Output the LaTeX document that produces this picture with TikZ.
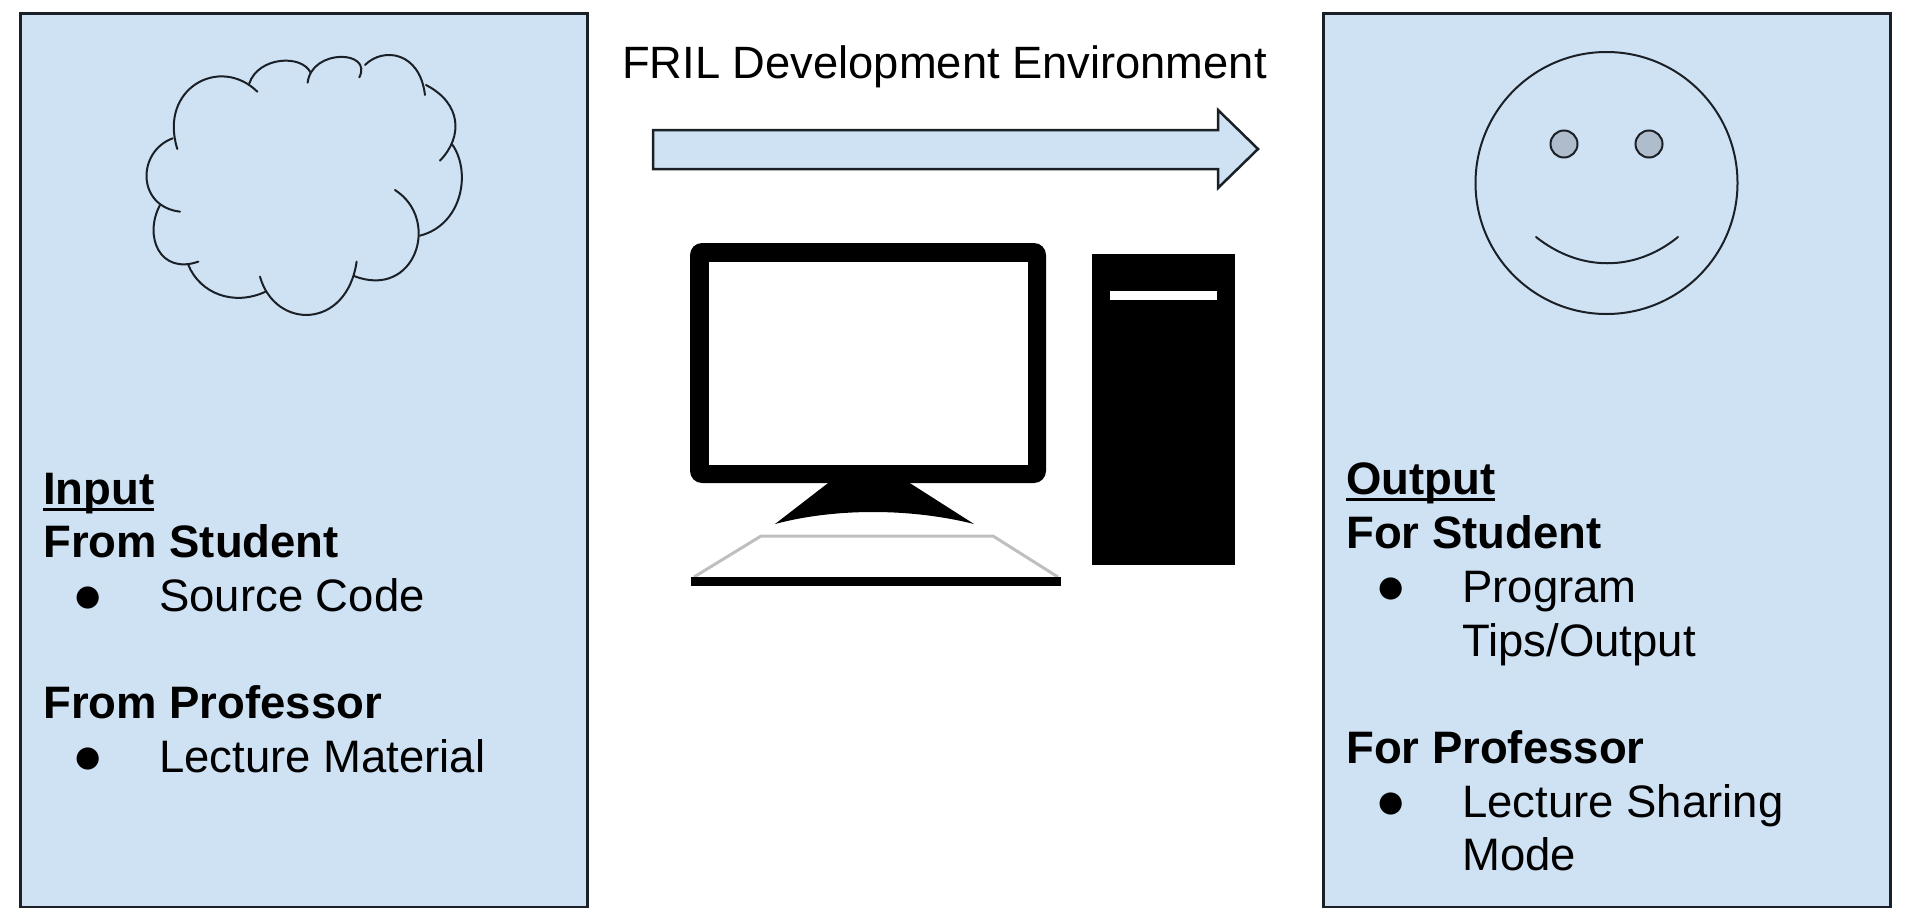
\documentclass[tikz,border=0pt]{standalone}
\usepackage{xcolor}
\usepackage{fontspec}
\setmainfont{Liberation Sans}
\newfontfamily\dotfont{DejaVu Sans}
\usetikzlibrary{positioning, calc}
\definecolor{panelblue}{HTML}{CFE2F3}
\definecolor{eyegray}{HTML}{AEBCCB}
\definecolor{linedark}{HTML}{1A2026}
\newcommand{\bulletline}[1]{\makebox[116pt][l]{\hspace*{32pt}\raisebox{6pt}{\dotfont\fontsize{29}{29}\selectfont ●}}#1}
\newcommand{\headword}[1]{\setbox0=\hbox{\textbf{#1}}\rlap{\rule[-6.5pt]{\wd0}{3pt}}\box0}
\tikzset{
    panel/.style={draw=linedark, line width=2.8pt, fill=panelblue, inner sep=0pt, minimum width=567pt, minimum height=893.5pt, outer sep=0pt, anchor=north west},
    paneltext/.style={inner sep=0pt, anchor=north west, align=left, font=\fontsize{45.5}{53.7}\selectfont},
    thinline/.style={draw=linedark, line width=2pt, line cap=round, line join=round},
}

\begin{document}
\begin{tikzpicture}[x=1pt, y=-1pt]
    \useasboundingbox (0,0) rectangle (1914,921);
    % side panels
    \node[panel] (inputpanel) at (20.5,13.5) {};
    \node[panel] (outputpanel) at (1323.5,13.5) {};
    % cloud
    \begin{scope}[shift={(120,30)}, x=0.3333pt, y=-0.3333pt]
        \draw[thinline] (180,545) .. controls (50,530) and (50,365) .. (158,325);
        \draw[thinline] (172,357) .. controls (115,175) and (300,75) .. (412,185);
        \draw[thinline] (388,160) .. controls (415,80) and (545,72) .. (572,128);
        \draw[thinline] (563,158) .. controls (575,55) and (760,60) .. (718,142);
        \draw[thinline] (735,105) .. controls (790,50) and (900,65) .. (915,195);
        \draw[thinline] (918,165) .. controls (1025,220) and (1030,320) .. (960,392);
        \draw[thinline] (998,345) .. controls (1055,430) and (1025,585) .. (900,617);
        \draw[thinline] (825,480) .. controls (965,570) and (885,810) .. (702,738);
        \draw[thinline] (710,695) .. controls (680,900) and (465,900) .. (420,740);
        \draw[thinline] (437,785) .. controls (340,830) and (240,790) .. (205,705);
        \draw[thinline] (235,695) .. controls (120,735) and (70,620) .. (120,525);
    \end{scope}
    % smiley
    \node[circle, thinline, minimum size=262pt, inner sep=0pt] (face) at (1606.5,183) {};
    \node[circle, draw=linedark, line width=2pt, fill=eyegray, minimum size=27pt, inner sep=0pt] (lefteye) at (1564,144) {};
    \node[circle, draw=linedark, line width=2pt, fill=eyegray, minimum size=27pt, inner sep=0pt] (righteye) at (1649,144) {};
    \draw[thinline] (1536,237) .. controls (1580,272) and (1635,272) .. (1678,237);
    % panel text
    \node[paneltext] (inputtext) at (43,472.5) {%
        \headword{Input}\\
        \textbf{From Student}\\
        \bulletline{Source Code}\\[53.7pt]
        \textbf{From Professor}\\
        \bulletline{Lecture Material}};
    \node[paneltext] (outputtext) at (1346,463) {%
        \headword{Output}\\
        \textbf{For Student}\\
        \bulletline{Program}\\
        \hspace*{116pt}Tips/Output\\[53.7pt]
        \textbf{For Professor}\\
        \bulletline{Lecture Sharing}\\
        \hspace*{116pt}Mode};
    % arrow with title
    \node[inner sep=0pt, font=\fontsize{45.3}{53.7}\selectfont, anchor=base] (devtitle) at (944.5,78.5) {FRIL Development Environment};
    \draw[draw=linedark, line width=2.5pt, fill=panelblue, line join=miter] (653,130) -- (1218,130) -- (1218,110) -- (1258,149) -- (1218,188) -- (1218,169) -- (653,169) -- cycle;
    % monitor
    \fill[black, rounded corners=12pt] (690,243) rectangle (1046,483);
    \fill[white] (709,262) rectangle (1028,465);
    \fill[black] (832,480) -- (905,480) -- (974,524) .. controls (910,508) and (835,508) .. (775,524) -- cycle;
    % keyboard
    \draw[gray!50, line width=3pt, fill=white] (694,577) -- (761,536) -- (993,536) -- (1058,577);
    \fill[black] (691,577) rectangle (1061,586);
    % tower
    \fill[black] (1092,254) rectangle (1235,565);
    \fill[white] (1110,291) rectangle (1217,300);
\end{tikzpicture}
\end{document}
